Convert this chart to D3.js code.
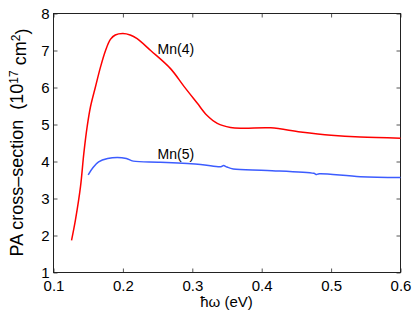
<!DOCTYPE html>
<html>
<head>
<meta charset="utf-8">
<script src="https://cdn.jsdelivr.net/npm/d3@7"></script>
<style>
  body { margin: 0; background: #fff; overflow: hidden; }
  svg { display: block; }
  svg text { font-family: Arial, "Liberation Sans", Helvetica, sans-serif; fill: #000; }
</style>
</head>
<body>
<div id="chart"></div>
<script>
// values: photon energy (eV) and cross-section (10^17 cm^2)
const mn4X = [0.126, 0.1317, 0.1389, 0.1437, 0.1485, 0.1533, 0.1605, 0.1677, 0.175, 0.182, 0.189, 0.2, 0.2105, 0.2205, 0.24, 0.2686, 0.288, 0.307, 0.321, 0.336, 0.355, 0.374, 0.413, 0.456, 0.5, 0.542, 0.6];
const mn4Y = [1.87, 2.43, 3.32, 4.22, 4.94, 5.48, 6.02, 6.55, 7.0, 7.3, 7.42, 7.46, 7.42, 7.32, 7.0, 6.51, 6.03, 5.58, 5.25, 5.03, 4.92, 4.90, 4.91, 4.80, 4.71, 4.66, 4.63];

const mn5X = [0.150, 0.157, 0.165, 0.178, 0.192, 0.205, 0.215, 0.254, 0.312, 0.341, 0.345, 0.35, 0.359, 0.408, 0.475, 0.479, 0.483, 0.542, 0.6];
const mn5Y = [3.64, 3.84, 3.99, 4.08, 4.11, 4.08, 4.01, 3.98, 3.92, 3.86, 3.89, 3.85, 3.80, 3.76, 3.68, 3.65, 3.67, 3.59, 3.57];

const xTicks = [0.1, 0.2, 0.3, 0.4, 0.5, 0.6];
const yTicks = [1, 2, 3, 4, 5, 6, 7, 8];

const seriesNames = ['Mn(4)', 'Mn(5)'];
const labelX = [0.25, 0.25];
const labelY = [6.90, 4.07];

const width = 415, height = 313;
const margin = {top: 13, right: 15, bottom: 41, left: 53};
const innerWidth = width - margin.left - margin.right,
      innerHeight = height - margin.top - margin.bottom;

const svg = d3.select('#chart').append('svg')
  .attr('width', width)
  .attr('height', height);

const x = d3.scaleLinear().domain([0.1, 0.6]).range([0, innerWidth]);
const y = d3.scaleLinear().domain([1, 8]).range([innerHeight, 0]);

const g = svg.append('g')
  .attr('transform', `translate(${margin.left + 0.5},${margin.top + 0.5})`);

// ticks point inward on all four sides, labels only bottom/left
const tickLen = 4;

const xAxis = g.append('g')
  .attr('transform', `translate(0,${innerHeight})`)
  .call(d3.axisBottom(x).tickValues(xTicks).tickFormat(d3.format('.1f')).tickSizeInner(-tickLen).tickSizeOuter(0).tickPadding(8));
const yAxis = g.append('g')
  .call(d3.axisLeft(y).tickValues(yTicks).tickFormat(d3.format('d')).tickSizeInner(-tickLen).tickSizeOuter(0).tickPadding(4));
const xTop = g.append('g')
  .call(d3.axisTop(x).tickValues(xTicks).tickSizeInner(-tickLen).tickSizeOuter(0));
const yRight = g.append('g')
  .attr('transform', `translate(${innerWidth},0)`)
  .call(d3.axisRight(y).tickValues(yTicks).tickSizeInner(-tickLen).tickSizeOuter(0));

[xTop, yRight].forEach(a => a.selectAll('.tick text').remove());

[xAxis, yAxis, xTop, yRight].forEach(a => {
  a.select('.domain').remove();
  a.selectAll('.tick line').attr('stroke', '#555');
  a.selectAll('.tick text').style('font-size', '15px').attr('fill', '#000');
});

// frame
g.append('rect')
  .attr('x', 0).attr('y', 0)
  .attr('width', innerWidth).attr('height', innerHeight)
  .attr('fill', 'none')
  .attr('stroke', '#222')
  .attr('stroke-width', 1);

const line = d3.line()
  .x(d => x(d[0]))
  .y(d => y(d[1]))
  .curve(d3.curveCatmullRom.alpha(0.5));

g.append('path')
  .datum(d3.zip(mn4X, mn4Y))
  .attr('d', line)
  .attr('fill', 'none')
  .attr('stroke', '#ff0000')
  .attr('stroke-width', 1.5);

g.append('path')
  .datum(d3.zip(mn5X, mn5Y))
  .attr('d', line)
  .attr('fill', 'none')
  .attr('stroke', '#3c5cff')
  .attr('stroke-width', 1.5);

seriesNames.forEach((name, i) => {
  g.append('text')
    .attr('x', x(labelX[i]))
    .attr('y', y(labelY[i]))
    .style('font-size', '14px')
    .text(name);
});

// axis labels
svg.append('text')
  .attr('x', margin.left + innerWidth / 2)
  .attr('y', 307)
  .attr('text-anchor', 'middle')
  .style('font-size', '15px')
  .text('ħω (eV)');

const yl = svg.append('text')
  .attr('transform', `translate(23,${margin.top + innerHeight / 2}) rotate(-90)`)
  .attr('text-anchor', 'middle')
  .attr('xml:space', 'preserve')
  .style('font-size', '18px');
yl.append('tspan').text('PA cross–section  (10');
yl.append('tspan').attr('dy', '-0.45em').style('font-size', '12px').text('17');
yl.append('tspan').attr('dy', '0.45em').text(' cm');
yl.append('tspan').attr('dy', '-0.45em').style('font-size', '12px').text('2');
yl.append('tspan').attr('dy', '0.45em').text(')');
</script>
</body>
</html>
